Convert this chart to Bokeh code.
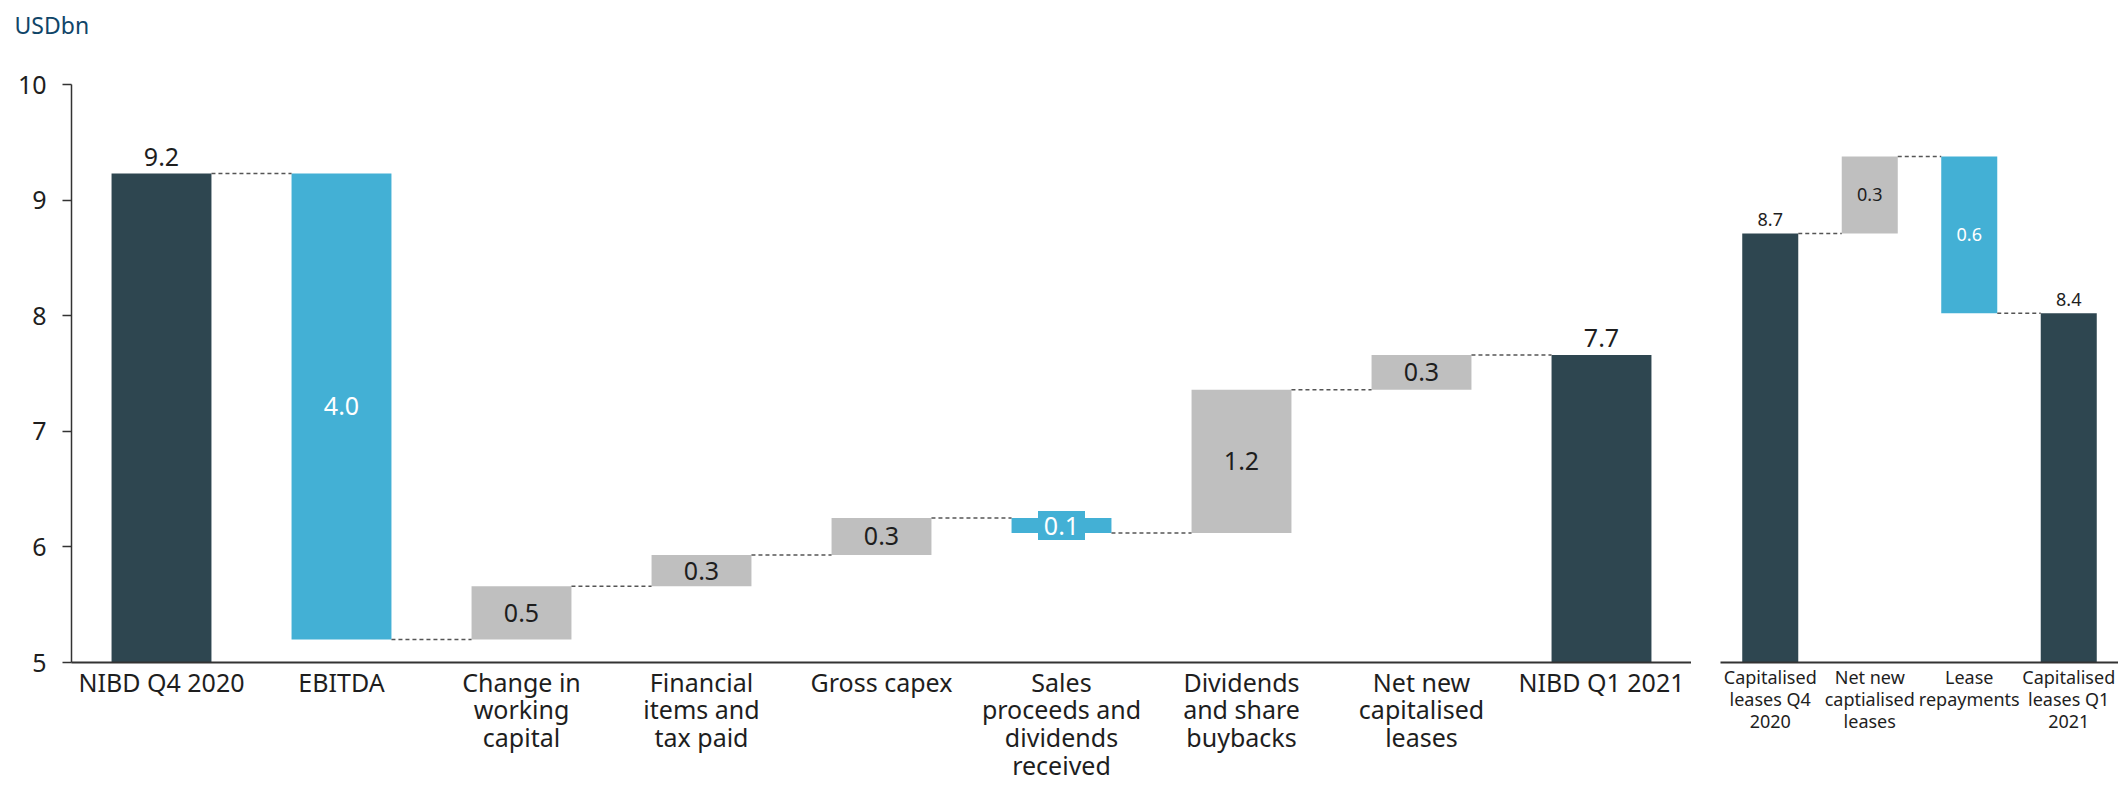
from bokeh.plotting import figure
from bokeh.models import ColumnDataSource, LabelSet, FactorRange, Range1d
from bokeh.layouts import row, column
from bokeh.transform import dodge
from bokeh.core.properties import value
from bokeh.embed import file_html
from bokeh.resources import INLINE

# ---------------- data ----------------
main_categories = ["NIBD Q4 2020", "EBITDA", "Change in\nworking\ncapital",
                   "Financial\nitems and\ntax paid", "Gross capex",
                   "Sales\nproceeds and\ndividends\nreceived",
                   "Dividends\nand share\nbuybacks", "Net new\ncapitalised\nleases",
                   "NIBD Q1 2021"]
main_kinds = ["total", "neg", "pos", "pos", "pos", "neg", "pos", "pos", "total"]
main_values = [9.23, -4.03, 0.46, 0.27, 0.32, -0.13, 1.24, 0.30, 7.66]

lease_categories = ["Capitalised\nleases Q4\n2020", "Net new\ncaptialised\nleases",
                    "Lease\nrepayments", "Capitalised\nleases Q1\n2021"]
lease_kinds = ["total", "pos", "neg", "total"]
lease_values = [8.71, 0.30, -0.61, 8.40]

y_unit = "USDbn"
y_ticks = [5, 6, 7, 8, 9, 10]

FONT = "Noto Sans"
DARK = "#2E4650"
BLUE = "#43B0D5"
GREY = "#BFBFBF"
TXT = "#1E1E1E"
COLORS = {"total": DARK, "neg": BLUE, "pos": GREY}

CAP_H = 48
TOTAL_H = 786


def waterfall(kinds, vals):
    bottoms, tops, texts, levels = [], [], [], []
    running = 0.0
    for k, v in zip(kinds, vals):
        if k == "total":
            b, t = 0.0, v
            running = v
        else:
            start = running
            running = running + v
            b, t = min(start, running), max(start, running)
        bottoms.append(b)
        tops.append(t)
        texts.append(f"{abs(v):.1f}")
        levels.append(running)
    return bottoms, tops, texts, levels


def build(cats, kinds, vals, yr, width, border_left, bar_w, fs, xfs, lh, top_off, show_y):
    bottoms, tops, texts, levels = waterfall(kinds, vals)
    colors = [COLORS[k] for k in kinds]
    p = figure(x_range=FactorRange(*cats, range_padding=0), y_range=Range1d(*yr),
               width=width, height=TOTAL_H - CAP_H, output_backend="svg", toolbar_location=None,
               min_border_left=border_left, min_border_right=0,
               min_border_top=84 - CAP_H, min_border_bottom=124)
    p.outline_line_color = None
    p.xgrid.grid_line_color = None
    p.ygrid.grid_line_color = None
    p.background_fill_color = "white"
    p.border_fill_color = "white"

    src = ColumnDataSource(dict(x=cats, bottom=bottoms, top=tops, color=colors))
    p.vbar(x="x", bottom="bottom", top="top", width=bar_w, color="color", source=src,
           line_color=None)

    # connectors
    csrc = ColumnDataSource(dict(x0=cats[:-1], x1=cats[1:], y=levels[:-1]))
    p.segment(x0=dodge("x0", bar_w / 2, range=p.x_range),
              x1=dodge("x1", -bar_w / 2, range=p.x_range),
              y0="y", y1="y", source=csrc, line_color="#555555", line_width=1.5,
              line_dash="4 3")

    # labels
    tot = dict(x=[], y=[], t=[])
    inn_dark = dict(x=[], y=[], t=[])
    inn_white = dict(x=[], y=[], t=[])
    boxed = dict(x=[], y=[], t=[])
    for c, k, b, t, s, v in zip(cats, kinds, bottoms, tops, texts, vals):
        if k == "total":
            tot["x"].append(c); tot["y"].append(t); tot["t"].append(s)
        elif k == "pos":
            inn_dark["x"].append(c); inn_dark["y"].append((b + t) / 2); inn_dark["t"].append(s)
        elif abs(v) < 0.2:
            boxed["x"].append(c); boxed["y"].append((b + t) / 2); boxed["t"].append(s)
        else:
            inn_white["x"].append(c); inn_white["y"].append((b + t) / 2); inn_white["t"].append(s)

    if boxed["x"]:
        bsrc = ColumnDataSource(boxed)
        p.rect(x="x", y="y", width=47, height=29, width_units="screen",
               height_units="screen", source=bsrc, fill_color=BLUE, line_color=None)

    common = dict(x="x", y="y", text="t", text_align="center",
                  text_font=value(FONT), text_font_size=fs)
    p.add_layout(LabelSet(source=ColumnDataSource(tot), text_baseline="alphabetic",
                          y_offset=top_off, text_color=TXT, **common))
    p.add_layout(LabelSet(source=ColumnDataSource(inn_dark), text_baseline="middle",
                          text_color=TXT, **common))
    p.add_layout(LabelSet(source=ColumnDataSource(inn_white), text_baseline="middle",
                          text_color="white", **common))
    if boxed["x"]:
        p.add_layout(LabelSet(source=ColumnDataSource(boxed), text_baseline="middle",
                              text_color="white", **common))

    # axes
    p.xaxis.axis_line_color = "#333333"
    p.xaxis.axis_line_width = 2
    p.xaxis.major_tick_line_color = None
    p.xaxis.minor_tick_line_color = None
    p.xaxis.major_label_text_font = FONT
    p.xaxis.major_label_text_font_size = xfs
    p.xaxis.major_label_text_color = TXT
    p.xaxis.major_label_standoff = 2
    p.xaxis.major_label_text_line_height = lh
    p.xaxis.major_tick_out = 0
    p.xaxis.major_tick_in = 0
    p.xaxis.major_label_orientation = "horizontal"

    if show_y:
        p.yaxis.ticker = y_ticks
        p.yaxis.axis_line_color = "#333333"
        p.yaxis.axis_line_width = 1.5
        p.yaxis.major_tick_line_color = "#333333"
        p.yaxis.major_tick_line_width = 1.5
        p.yaxis.major_tick_out = 9
        p.yaxis.major_tick_in = 0
        p.yaxis.minor_tick_line_color = None
        p.yaxis.major_label_text_font = FONT
        p.yaxis.major_label_text_font_size = "25px"
        p.yaxis.major_label_text_color = TXT
        p.yaxis.major_label_standoff = 16
    else:
        p.yaxis.visible = False
    return p


p1 = build(main_categories, main_kinds, main_values, (5, 10), 1691, 71, 0.555,
           "25px", "25px", 0.82, 8, True)
p2 = build(lease_categories, lease_kinds, lease_values, (7.04, 9.29), 427, 29, 0.563,
           "18px", "18px", 0.92, 7, False)

# caption strip holding the unit text
cap = figure(width=2118, height=CAP_H, x_range=Range1d(0, 2118), y_range=Range1d(0, CAP_H),
             output_backend="svg", toolbar_location=None, min_border=0)
cap.axis.visible = False
cap.grid.visible = False
cap.outline_line_color = None
cap.text(x=[14], y=[CAP_H - 24], text=[y_unit], text_font=value(FONT),
         text_font_size="23px", text_color="#0F4568", text_baseline="middle",
         text_align="left")

layout = column(cap, row(p1, p2, spacing=0), spacing=0)
open("out.html", "w").write(file_html(layout, INLINE))
